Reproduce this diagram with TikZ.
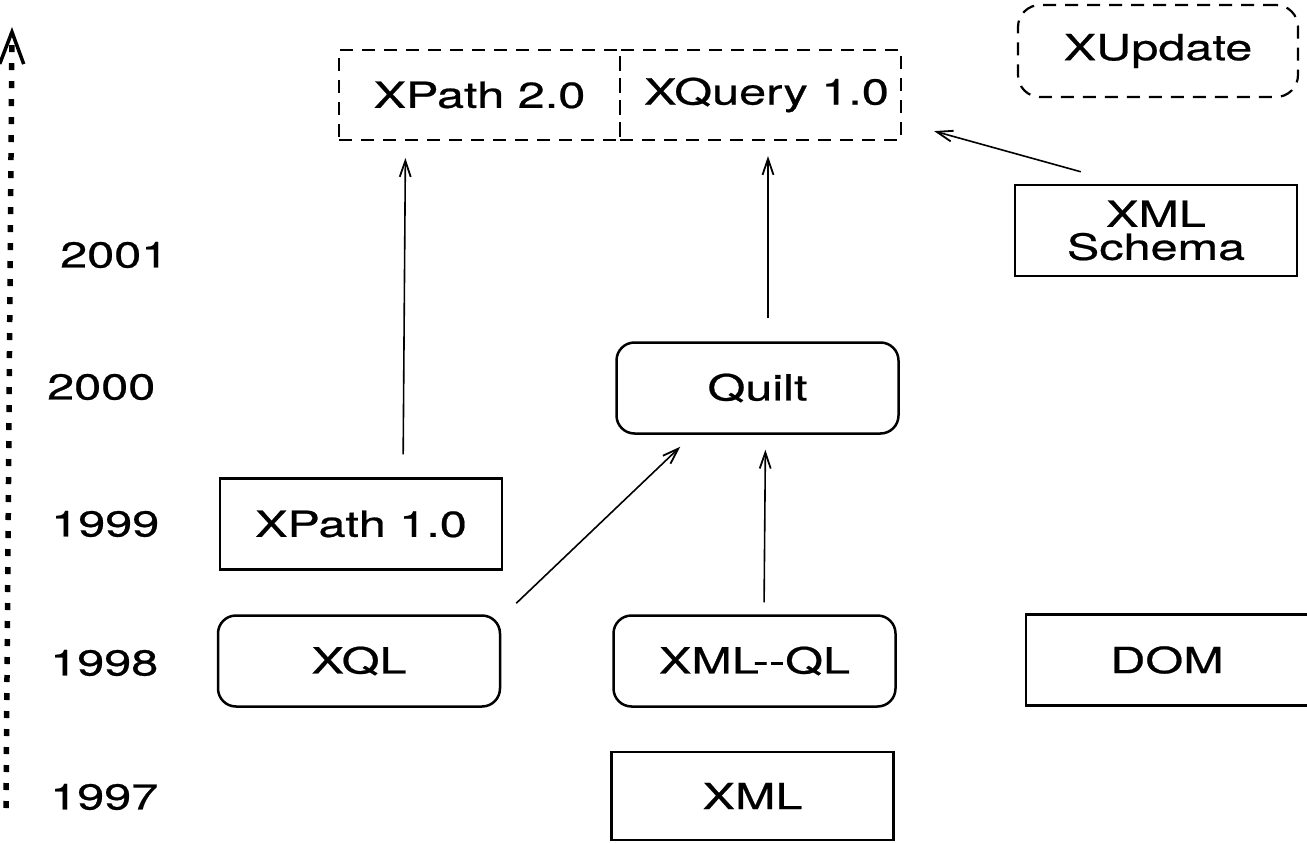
\documentclass[tikz,border=0pt]{standalone}
\usepackage{fontspec}
\setmainfont{TeX Gyre Heros}[FakeStretch=1.35,FakeBold=0.6]
\usetikzlibrary{arrows.meta,calc}
\begin{document}
\begin{tikzpicture}[x=1pt,y=-1pt,
  every node/.style={font=\fontsize{36}{40}\selectfont, inner sep=0pt},
  sbox/.style={draw, line width=2.5pt, minimum width=282pt, minimum height=91pt},
  rbox/.style={sbox, rounded corners=18pt},
  dbox/.style={draw, line width=2.2pt, dash pattern=on 13pt off 9pt, minimum width=281pt, minimum height=90pt},
  year/.style={anchor=west},
  arr/.style={line width=1.6pt, -{Straight Barb[length=16pt,width=11pt,line width=1.8pt]}},
  axis/.style={line width=5.5pt, dash pattern=on 7pt off 11pt, -{Straight Barb[length=32pt,width=24pt,line width=3.5pt]}}
]
\useasboundingbox (0,0) rectangle (1307,843);

% axis
\coordinate (axb) at (6,808);
\coordinate (axt) at (12,27);
\draw[axis] (axb) -- (axt);

% years
\node[year] (y2001) at (60,255) {2001};
\node[year] (y2000) at (47,387) {2000};
\node[year] (y1999) at (51,524) {1999};
\node[year] (y1998) at (50,663) {1998};
\node[year] (y1997) at (50,797) {1997};

% boxes
\node[dbox] (xp2) at (479.5,95) {XPath 2.0};
\node[dbox] (xq) at (760.5,95) {\hspace*{12pt}XQuery 1.0};
\node[dbox, rounded corners=22pt, minimum width=280pt, minimum height=92pt] (xupd) at (1158,51) {XUpdate};
\node[sbox, align=center] (schema) at (1156,230.5) {XML\\[-7pt]Schema};
\node[rbox] (quilt) at (757.5,388) {Quilt};
\node[sbox] (xp1) at (361,524) {XPath 1.0};
\node[rbox] (xql) at (359,661) {XQL};
\node[rbox] (xmlql) at (754.5,661) {XML-{}-QL};
\node[sbox] (dom) at (1167,660) {DOM};
\node[sbox, minimum height=88pt] (xml) at (752.5,796) {XML};

% connectors
\draw[arr, shorten <=23pt, shorten >=17pt] ([xshift=42pt]xp1.north) -- ([xshift=-74pt]xp2.south);
\draw[arr, shorten <=23pt, shorten >=15pt] ([xshift=10.5pt]quilt.north) -- ([xshift=7.5pt]xq.south);
\draw[arr, shorten <=12pt, shorten >=15pt] ([xshift=9.5pt]xmlql.north) -- ([xshift=8pt]quilt.south);
\draw[arr] ($(xql.north east)+(15,-11)$) -- ($(quilt.south west)+(65,12)$);
\draw[arr] ($(schema.north west)+(67,-12)$) -- ($(xq.south east)+(32,-10)$);
\end{tikzpicture}
\end{document}
